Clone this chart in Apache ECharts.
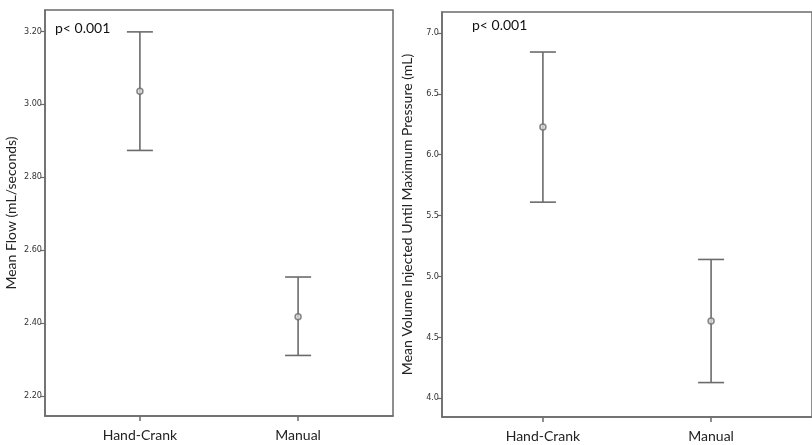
<!DOCTYPE html>
<html>
<head>
<meta charset="utf-8">
<script src="https://cdn.jsdelivr.net/npm/echarts@6/dist/echarts.min.js"></script>
<style>
  html, body { margin: 0; padding: 0; background: #fff; }
  #chart { width: 812px; height: 445px; }
</style>
</head>
<body>
<div id="chart"></div>
<script>
  // groups on the x axis (0 = Hand-Crank, 1 = Manual)
  const categories = ['Hand-Crank', 'Manual']

  // left panel: mean flow (mL/seconds)
  const flowMean = [3.035, 2.417]
  const flowLow = [2.873, 2.311]
  const flowHigh = [3.198, 2.526]
  const flowTicks = [2.2, 2.4, 2.6, 2.8, 3.0, 3.2]

  // right panel: mean volume injected (mL)
  const volMean = [6.227, 4.634]
  const volLow = [5.61, 4.127]
  const volHigh = [6.844, 5.139]
  const volTicks = [4.0, 4.5, 5.0, 5.5, 6.0, 6.5, 7.0]

  const lineColor = '#6b6b6b'
  const tickFont = '"Liberation Sans Narrow", "DejaVu Sans Condensed", "Liberation Sans", sans-serif'
  const chart = echarts.init(document.getElementById('chart'))

  function errorBar(api) {
    const x = api.value(0)
    const lo = api.coord([x, api.value(1)])
    const hi = api.coord([x, api.value(2)])
    const w = 13
    const style = { stroke: lineColor, lineWidth: 1.6, fill: null }
    return {
      type: 'group',
      children: [
        { type: 'line', shape: { x1: lo[0], y1: lo[1], x2: hi[0], y2: hi[1] }, style },
        { type: 'line', shape: { x1: hi[0] - w, y1: hi[1], x2: hi[0] + w, y2: hi[1] }, style },
        { type: 'line', shape: { x1: lo[0] - w, y1: lo[1], x2: lo[0] + w, y2: lo[1] }, style }
      ]
    }
  }

  function xAxisFor(gridIndex) {
    return {
      type: 'value',
      gridIndex,
      min: -0.6,
      max: 1.6,
      splitLine: { show: false },
      axisLine: { onZero: false, lineStyle: { color: lineColor, width: 1.5 } },
      axisTick: { customValues: [0, 1], length: 5, lineStyle: { color: lineColor, width: 1.5 } },
      axisLabel: {
        customValues: [0, 1],
        formatter: v => categories[Math.round(v)],
        color: '#222',
        fontFamily: 'Lato',
        fontSize: 14,
        margin: 12
      }
    }
  }

  function yAxisFor(gridIndex, min, max, ticks, digits, name, gap) {
    return {
      type: 'value',
      gridIndex,
      min,
      max,
      name,
      nameLocation: 'middle',
      nameGap: gap,
      nameTextStyle: { color: '#222', fontFamily: 'Lato', fontSize: 14 },
      splitLine: { show: false },
      axisLine: { show: true, onZero: false, lineStyle: { color: lineColor, width: 1.5 } },
      axisTick: { customValues: ticks, length: 4, lineStyle: { color: lineColor, width: 1.2 } },
      axisLabel: {
        customValues: ticks,
        formatter: v => v.toFixed(digits),
        color: '#333',
        fontFamily: tickFont,
        fontSize: 9,
        margin: 3
      }
    }
  }

  const option = {
    backgroundColor: '#fff',
    animation: false,
    grid: [
      { left: 45, top: 10, width: 348, height: 406, show: true, borderColor: lineColor, borderWidth: 1.5 },
      { left: 442, top: 12, width: 376, height: 405, show: true, borderColor: lineColor, borderWidth: 1.5 }
    ],
    xAxis: [xAxisFor(0), xAxisFor(1)],
    yAxis: [
      yAxisFor(0, 2.145, 3.258, flowTicks, 2, 'Mean Flow (mL/seconds)', 27),
      yAxisFor(1, 3.844, 7.173, volTicks, 1, 'Mean Volume Injected Until Maximum Pressure (mL)', 28)
    ],
    graphic: [
      { type: 'text', left: 55, top: 21, style: { text: 'p< 0.001', font: '14px Lato', fill: '#111' } },
      { type: 'text', left: 472, top: 18, style: { text: 'p< 0.001', font: '14px Lato', fill: '#111' } }
    ],
    series: [
      {
        type: 'custom',
        xAxisIndex: 0,
        yAxisIndex: 0,
        renderItem: (params, api) => errorBar(api),
        data: categories.map((c, i) => [i, flowLow[i], flowHigh[i]])
      },
      {
        type: 'scatter',
        xAxisIndex: 0,
        yAxisIndex: 0,
        symbol: 'circle',
        symbolSize: 6,
        itemStyle: { color: '#d8d8d8', borderColor: lineColor, borderWidth: 1.5 },
        data: categories.map((c, i) => [i, flowMean[i]])
      },
      {
        type: 'custom',
        xAxisIndex: 1,
        yAxisIndex: 1,
        renderItem: (params, api) => errorBar(api),
        data: categories.map((c, i) => [i, volLow[i], volHigh[i]])
      },
      {
        type: 'scatter',
        xAxisIndex: 1,
        yAxisIndex: 1,
        symbol: 'circle',
        symbolSize: 6,
        itemStyle: { color: '#d8d8d8', borderColor: lineColor, borderWidth: 1.5 },
        data: categories.map((c, i) => [i, volMean[i]])
      }
    ]
  }

  chart.setOption(option)
</script>
</body>
</html>
